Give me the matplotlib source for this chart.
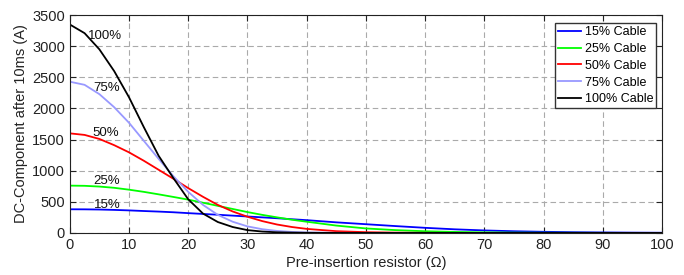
import matplotlib
matplotlib.use("Agg")
import matplotlib.pyplot as plt

resistor = [0, 2.5, 5, 7.5, 10, 12.5, 15, 17.5, 20, 22.5, 25, 27.5, 30, 32.5, 35, 37.5, 40,
            45, 50, 55, 60, 65, 70, 75, 80, 85, 90, 95, 100]

cable_15 = [380, 379, 376, 370, 362, 352, 343, 332, 318, 305, 292, 278, 264, 250, 236, 220, 205,
            170, 140, 110, 82, 58, 40, 27, 18, 12, 8, 5, 3]
cable_25 = [760, 757, 745, 725, 695, 660, 620, 578, 535, 485, 435, 385, 335, 290, 250, 212, 180,
            118, 72, 45, 27, 16, 9, 5, 3, 2, 1, 0, 0]
cable_50 = [1600, 1575, 1510, 1410, 1295, 1160, 1015, 870, 720, 580, 450, 345, 260, 190, 135, 95, 65,
            28, 12, 5, 2, 0, 0, 0, 0, 0, 0, 0, 0]
cable_75 = [2430, 2380, 2230, 2020, 1770, 1480, 1190, 910, 660, 450, 290, 180, 105, 60, 32, 16, 8,
            2, 0, 0, 0, 0, 0, 0, 0, 0, 0, 0, 0]
cable_100 = [3350, 3210, 2950, 2600, 2180, 1700, 1240, 880, 540, 310, 175, 95, 45, 22, 10, 5, 2,
             0, 0, 0, 0, 0, 0, 0, 0, 0, 0, 0, 0]

series = [
    ("15% Cable", cable_15, "#0000ff"),
    ("25% Cable", cable_25, "#00ff00"),
    ("50% Cable", cable_50, "#ff0000"),
    ("75% Cable", cable_75, "#9999ff"),
    ("100% Cable", cable_100, "#000000"),
]

annotations = [("100%", 3.0, 3170), ("75%", 3.9, 2330), ("50%", 3.9, 1610),
               ("25%", 4.0, 840), ("15%", 4.0, 450)]

x_ticks = [0, 10, 20, 30, 40, 50, 60, 70, 80, 90, 100]
y_ticks = [0, 500, 1000, 1500, 2000, 2500, 3000, 3500]

plt.rcParams['font.family'] = ['Liberation Sans', 'DejaVu Sans']

fig = plt.figure(figsize=(6.84, 2.75), dpi=100)
ax = fig.add_axes([0.102, 0.153, 0.866, 0.792])

for label, vals, color in series:
    ax.plot(resistor, vals, color=color, lw=1.3, label=label)

for txt, x, y in annotations:
    ax.text(x, y, txt, fontsize=9.5, va='center', ha='left', color='#111111')

ax.set_xlim(0, 100)
ax.set_ylim(0, 3500)
ax.set_xticks(x_ticks)
ax.set_yticks(y_ticks)
ax.tick_params(direction='in', top=True, right=True, labelsize=10.5, length=4, colors='#222222')
ax.grid(True, linestyle=(0, (5, 3)), color='#aaaaaa', lw=0.8)
ax.set_axisbelow(True)
for s in ax.spines.values():
    s.set_color('#222222')
    s.set_linewidth(0.8)

ax.set_xlabel("Pre-insertion resistor (Ω)", fontsize=10.5, color='#222222', labelpad=3)
ax.set_ylabel("DC-Component after 10ms (A)", fontsize=10.5, color='#222222', labelpad=3)

leg = ax.legend(loc='upper right', fontsize=9, frameon=True, fancybox=False, framealpha=1,
                handlelength=1.85, handletextpad=0.25, borderpad=0.25, labelspacing=0.38,
                borderaxespad=0, edgecolor='#333333', bbox_to_anchor=(0.990, 0.963))
leg.get_frame().set_linewidth(1.0)

fig.savefig("out.png", dpi=100)
